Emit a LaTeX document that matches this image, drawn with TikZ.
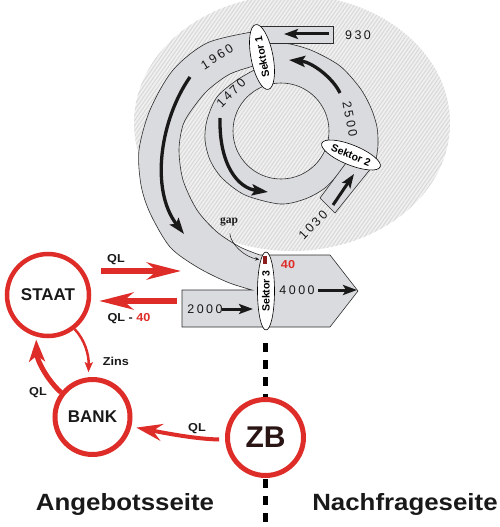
\documentclass[tikz,border=0pt]{standalone}
\usepackage{fontspec}
\setmainfont{Liberation Sans}
\newfontfamily\numfont[LetterSpace=20]{Liberation Sans}
\newfontfamily\widefont[FakeStretch=1.1]{Liberation Sans}
\newfontfamily\gapfont{Liberation Serif}
\usetikzlibrary{arrows.meta,shapes.geometric,patterns.meta}
\definecolor{bandgray}{RGB}{218,219,222}
\definecolor{hatchbase}{RGB}{240,240,240}
\definecolor{hatchline}{RGB}{216,216,216}
\definecolor{qred}{RGB}{222,44,40}
\definecolor{darkred}{RGB}{140,30,30}
\definecolor{ink}{RGB}{25,25,25}
\definecolor{zbink}{RGB}{42,20,20}
\definecolor{edge}{RGB}{45,45,45}
\begin{document}
\begin{tikzpicture}[x=1pt,y=-1pt,
  edgeline/.style={draw=edge,line width=0.6pt},
  bandarrow/.style={draw=ink,line width=3.3pt,-{Stealth[length=16pt,width=11pt,inset=3pt]}},
  smallarrow/.style={draw=ink,line width=3pt,-{Stealth[length=14pt,width=10pt,inset=3pt]}},
  sektor/.style={draw=black,fill=white,ellipse,line width=0.6pt,inner sep=0pt,font=\fontsize{10.5}{12}\selectfont\bfseries},
  num/.style={font=\numfont\fontsize{12.5}{14}\selectfont,text=ink,inner sep=0pt},
  ring/.style={circle,draw=qred,fill=white,inner sep=0pt,font=\bfseries,text=ink},
  redarrow/.style={draw=qred,line width=5.5pt,-{Stealth[length=34pt,width=17pt,inset=10pt]}},
  lbl/.style={font=\widefont\bfseries\fontsize{11.5}{13}\selectfont,text=ink,inner sep=0pt},
  side/.style={font=\widefont\bfseries\fontsize{23.5}{28}\selectfont,text=ink,inner sep=0pt,anchor=base},
]
\useasboundingbox (0,0) rectangle (500,527);

% hatched background
\fill[hatchbase] (292,123) ellipse [x radius=158, y radius=128];
\fill[pattern={Lines[angle=55,distance=3pt,line width=1pt]}, pattern color=hatchline] (292,123) ellipse [x radius=158, y radius=128];

% outer band (1960) with sector 3 boxes
\filldraw[fill=bandgray, edgeline]
  plot[smooth] coordinates {(252,32) (207,43) (173,70) (150,110) (139,150) (141,185) (150,213) (170,247) (197,267) (227,282) (252,290)}
  -- (182,290) -- (182,327) -- (330,327) -- (358,291) -- (330,255) -- (260,255)
  -- plot[smooth] coordinates {(260,255) (240,247) (217,232) (197,210) (183,180) (179,150) (183,125) (193,108) (208,90) (230,74) (257,65)}
  -- cycle;

% inner ring (1470 / 2500)
\fill[bandgray, even odd rule]
  plot[smooth] coordinates {(258,68) (237,80) (217,97) (207,120) (205,140) (210,160) (222,178) (245,195) (280,204) (305,199) (325,188) (340,172)}
  -- (360,163)
  -- plot[smooth] coordinates {(376,160) (378,145) (377,127) (371,108) (360,88) (340,66) (313,51) (290,44) (272,43)}
  -- cycle
  (281,131) circle (48);
\draw[edgeline] plot[smooth] coordinates {(258,68) (237,80) (217,97) (207,120) (205,140) (210,160) (222,178) (245,195) (280,204) (305,199) (325,188) (340,172)};
\draw[edgeline] plot[smooth] coordinates {(376,160) (378,145) (377,127) (371,108) (360,88) (340,66) (313,51) (290,44) (272,43)};
\draw[edgeline] (281,131) circle (48);

% input boxes 930 and 1030
\fill[bandgray] (259,26) rectangle (333,43);
\draw[edgeline] (259,26) -- (333,26) -- (333,43) -- (266,43);
\filldraw[fill=bandgray, edgeline] (346,163) -- (320,198) -- (335,213) -- (372,167) -- cycle;

% flow arrows in the bands
\draw[bandarrow] (190,77) .. controls (160,120) and (150,190) .. (184,234);
\draw[bandarrow] (220,118) .. controls (219,165) and (238,188) .. (268,192);
\draw[bandarrow] (340,93) .. controls (333,78) and (312,62) .. (289,60);
\draw[smallarrow] (329,34) -- (284,34);
\draw[smallarrow] (333,205) -- (354,174);
\draw[smallarrow] (222,309) -- (253,309);
\draw[smallarrow] (318,290) -- (357,290);

% sectors
\node[sektor, rotate=101, minimum width=66pt, minimum height=22pt] (s1) at (262,57) {Sektor 1};
\node[sektor, rotate=-22, minimum width=63pt, minimum height=20pt] (s2) at (351,155) {Sektor 2};
\node[sektor, rotate=90, minimum width=78pt, minimum height=17pt] (s3) at (266,291) {Sektor 3};
\node[fill=darkred, minimum width=3.4pt, minimum height=8.3pt, inner sep=0pt] (gapmark) at (265,260.2) {};

% numbers
\node[num, rotate=32] (n1960) at (217,57) {1960};
\node[num, rotate=45] (n1470) at (231,93) {1470};
\node[num, rotate=-79] (n2500) at (350,119) {2500};
\node[num] (n930) at (358,35) {930};
\node[num, rotate=46] (n1030) at (313,225) {1030};
\node[num] (n2000) at (205,309) {2000};
\node[num] (n4000) at (297,290) {4000};

% gap
\node[font=\gapfont\bfseries\fontsize{11.5}{13}\selectfont, text=ink, inner sep=0pt] (gap) at (229,222) {gap};
\draw[draw=ink, line width=0.5pt, -{Stealth[length=4pt,width=3.5pt]}, shorten <=7pt, shorten >=4pt]
  (gap.south) .. controls (231,245) and (245,257) .. (gapmark.west);
\node[lbl, text=qred] (n40) at (288,265) {40};

% divider
\coordinate (divtop) at (265.5,343);
\coordinate (divbot) at (265.5,527);
\draw[black, line width=4.3pt, dash pattern=on 9pt off 8pt] (divtop) -- (divbot);

% actors
\node[ring, line width=4.5pt, minimum size=82pt, font=\bfseries\fontsize{17}{20}\selectfont] (staat) at (48,295) {STAAT};
\node[ring, line width=5pt, minimum size=75pt, font=\bfseries\fontsize{17}{20}\selectfont] (bank) at (92.5,417) {BANK};
\node[ring, line width=5pt, minimum size=76pt, font=\bfseries\fontsize{30}{34}\selectfont, text=zbink] (zb) at (265.5,437.5) {ZB};

% red flows
\coordinate (qlin) at (181,271);
\coordinate (qlout) at (177,301);
\draw[redarrow, shorten <=10pt] (staat.east |- qlin) -- (qlin);
\draw[redarrow, shorten >=8pt] (qlout) -- (staat.east |- qlout);
\draw[draw=qred, line width=2.5pt, -{Stealth[length=10pt,width=8pt,inset=2pt]}, shorten >=5pt]
  (staat.-52) .. controls (85,340) and (89,355) .. (bank.96);
\draw[draw=qred, line width=5pt, -{Stealth[length=22pt,width=16pt,inset=6pt]}, shorten >=3pt]
  (bank.142) .. controls (47,380) and (37,360) .. (staat.-106);
\draw[draw=qred, line width=4pt, -{Stealth[length=26pt,width=17pt,inset=9pt]}, shorten <=6pt, shorten >=5pt]
  (zb.183) .. controls (195,439) and (165,433) .. (bank.-14);

% labels
\node[lbl] (lqlin) at (116,260) {QL};
\node[lbl] (lqlout) at (129,319) {QL - \textcolor{qred}{40}};
\node[lbl] (lzins) at (116,361) {Zins};
\node[lbl] (lqlbank) at (38,393) {QL};
\node[lbl] (lqlzb) at (197,429) {QL};

\node[side] (angebot) at (125,510) {Angebotsseite};
\node[side] (nachfrage) at (405,510) {Nachfrageseite};
\end{tikzpicture}
\end{document}
